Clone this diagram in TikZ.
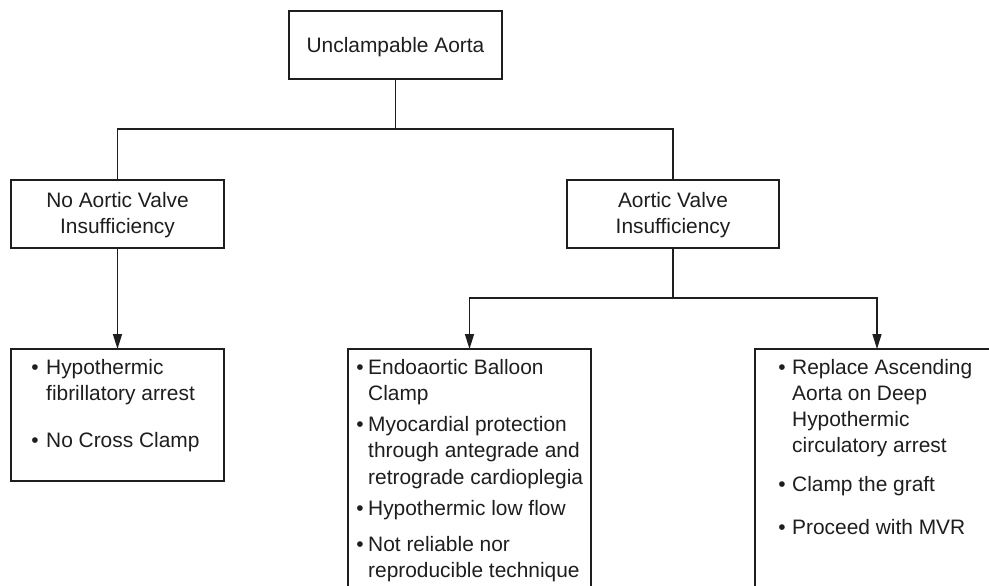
\documentclass[tikz,border=0pt]{standalone}
\usepackage{fontspec}
\setmainfont{Liberation Sans}
\usetikzlibrary{arrows.meta}
\definecolor{ink}{HTML}{1E1E1E}
\begin{document}
\begin{tikzpicture}[x=1pt,y=-1pt,
  frame/.style={draw=ink, line width=1.4pt, inner sep=0pt, outer sep=0pt},
  ln/.style={anchor=base west, inner sep=0pt, text=ink, font=\fontsize{20.9}{26}\selectfont},
  mid/.style={anchor=base, inner sep=0pt, text=ink, font=\fontsize{20.9}{26}\selectfont},
  dot/.style={anchor=base, inner sep=0pt, text=ink, font=\fontsize{20.9}{26}\selectfont},
  link/.style={draw=ink, line width=1.4pt},
  arrowlink/.style={link, -{Triangle[length=15pt,width=9pt]}}]

% canvas
\useasboundingbox (0,0) rectangle (989,586);
\fill[white] (0,0) rectangle (989,586);
\clip (0,0) rectangle (989,586);

% boxes
\node[frame, minimum width=213pt, minimum height=68pt] (top) at (395.5,45) {};
\node[frame, minimum width=213pt, minimum height=68pt] (noav) at (117.5,214) {};
\node[frame, minimum width=212pt, minimum height=68pt] (av) at (673,214) {};
\node[frame, minimum width=213pt, minimum height=132pt] (leftbox) at (117.5,415) {};
\node[frame, minimum width=243pt, minimum height=271pt] (midbox) at (469.5,484.5) {};
\node[frame, minimum width=244pt, minimum height=271pt] (rightbox) at (877,484.5) {};

% headings
\node[mid] (topA) at (395.5,53) {Unclampable Aorta};
\node[mid] (noavA) at (117.5,207) {No Aortic Valve};
\node[mid] (noavB) at (117.5,233) {Insufficiency};
\node[mid] (avA) at (673,207) {Aortic Valve};
\node[mid] (avB) at (673,233) {Insufficiency};

% left list
\node[dot] (lb1) at (35,374) {\textbullet};
\node[ln] (l1a) at (46,374) {Hypothermic};
\node[ln] (l1b) at (46,400) {fibrillatory arrest};
\node[dot] (lb2) at (35,447) {\textbullet};
\node[ln] (l2a) at (46,447) {No Cross Clamp};

% middle list
\node[dot] (mb1) at (360,374) {\textbullet};
\node[ln] (m1a) at (368,374) {Endoaortic Balloon};
\node[ln] (m1b) at (368,400) {Clamp};
\node[dot] (mb2) at (360,431) {\textbullet};
\node[ln] (m2a) at (368,431) {Myocardial protection};
\node[ln] (m2b) at (368,457) {through antegrade and};
\node[ln] (m2c) at (368,484) {retrograde cardioplegia};
\node[dot] (mb3) at (360,515) {\textbullet};
\node[ln] (m3a) at (368,515) {Hypothermic low flow};
\node[dot] (mb4) at (360,551) {\textbullet};
\node[ln] (m4a) at (368,551) {Not reliable nor};
\node[ln] (m4b) at (368,577) {reproducible technique};

% right list
\node[dot] (rb1) at (782,374) {\textbullet};
\node[ln] (r1a) at (792,374) {Replace Ascending};
\node[ln] (r1b) at (792,400) {Aorta on Deep};
\node[ln] (r1c) at (792,426) {Hypothermic};
\node[ln] (r1d) at (792,452) {circulatory arrest};
\node[dot] (rb2) at (782,491) {\textbullet};
\node[ln] (r2a) at (792,491) {Clamp the graft};
\node[dot] (rb3) at (782,534) {\textbullet};
\node[ln] (r3a) at (792,534) {Proceed with MVR};

% connectors
\coordinate (bus1) at (0,129);
\coordinate (bus2) at (0,298);
\draw[link] (top.south) -- (top.south |- bus1) -| (noav.north);
\draw[link] (top.south |- bus1) -| (av.north);
\draw[arrowlink] (noav.south) -- (leftbox.north);
\draw[link] (av.south) -- (av.south |- bus2);
\draw[arrowlink] (av.south |- bus2) -| (midbox.north);
\draw[arrowlink] (av.south |- bus2) -| (rightbox.north);
\end{tikzpicture}
\end{document}
